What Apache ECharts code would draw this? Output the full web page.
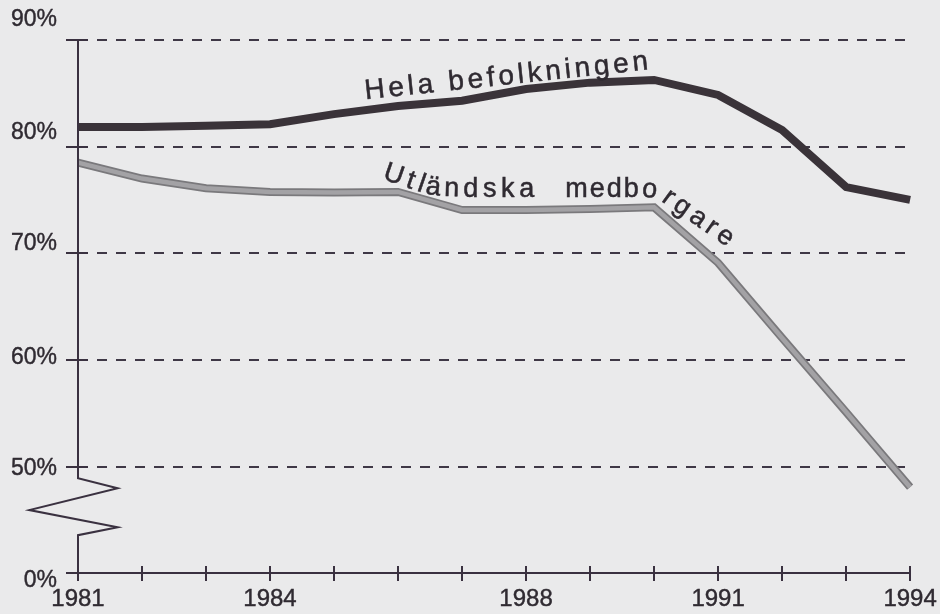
<!DOCTYPE html>
<html>
<head>
<meta charset="utf-8">
<script src="https://cdn.jsdelivr.net/npm/echarts@6/dist/echarts.min.js"></script>
<style>
  html, body { margin: 0; padding: 0; background: #eaeaeb; }
  #chart { width: 940px; height: 614px; }
</style>
</head>
<body>
<div id="chart"></div>
<script>
// data (andel i procent)
const years = [1981, 1982, 1983, 1984, 1985, 1986, 1987, 1988, 1989, 1990, 1991, 1992, 1993, 1994]
const hela = [81.85, 81.85, 81.95, 82.1, 83.05, 83.8, 84.3, 85.4, 86.0, 86.25, 84.85, 81.55, 76.2, 75.0]
const utlandska = [78.5, 77.0, 76.1, 75.75, 75.7, 75.75, 74.05, 74.05, 74.15, 74.3, 69.1, 62.05, 55.1, 48.05]
const yearLabels = [1981, 1984, 1988, 1991, 1994]
// y axis is broken: the bottom tick (40) stands for 0%
const pctTicks = [40, 50, 60, 70, 80, 90]
const pctLabels = ['0%', '50%', '60%', '70%', '80%', '90%']

const FONT = '"Liberation Sans", Arial, sans-serif'
const INK = '#2f2a31'
const AXIS = '#3a3140'

const chart = echarts.init(document.getElementById('chart'))

// labels sit a bit off their lines in the print
const labelShift = { 40: [16, 0, 0, 0], 50: [5, 0, 0, 0], 60: [0, 0, 5, 0], 70: [0, 0, 19, 0], 80: [0, 0, 27, 0], 90: [0, 0, 41, 0] }
const rich = {}
pctTicks.forEach((v) => {
  rich['s' + v] = {
    fontSize: 23, fontFamily: FONT, color: INK, padding: labelShift[v],
    textBorderColor: INK, textBorderWidth: 0.4
  }
})

const xBase = {
  type: 'value',
  min: years[0],
  max: years[years.length - 1],
  interval: 1,
  position: 'bottom',
  splitLine: { show: false }
}

chart.setOption({
  backgroundColor: '#eaeaeb',
  animation: false,
  grid: { left: 78, right: 25, top: 40, bottom: 41 },
  xAxis: [
    Object.assign({}, xBase, {
      axisLine: { show: true, lineStyle: { color: AXIS, width: 2 } },
      axisTick: { show: true, length: 8, lineStyle: { color: AXIS, width: 2 } },
      axisLabel: {
        margin: 14,
        fontSize: 24,
        fontFamily: FONT,
        color: INK,
        textBorderColor: INK,
        textBorderWidth: 0.4,
        formatter: (v) => (yearLabels.includes(v) ? String(v) : '')
      }
    }),
    Object.assign({}, xBase, {
      axisLine: { show: false },
      axisTick: { show: true, inside: true, length: 7, lineStyle: { color: AXIS, width: 2 } },
      axisLabel: { show: false }
    })
  ],
  yAxis: [
    {
      type: 'value',
      min: 40,
      max: 90,
      interval: 10,
      axisLine: { show: false },
      axisTick: { show: true, length: 12, lineStyle: { color: AXIS, width: 2 } },
      axisLabel: {
        margin: 21,
        formatter: (v) => '{s' + v + '|' + pctLabels[pctTicks.indexOf(v)] + '}',
        rich: rich
      },
      splitLine: {
        show: true,
        lineStyle: { color: '#3f3846', width: 1.8, type: [10, 9] }
      }
    },
    {
      type: 'value',
      min: 40,
      max: 90,
      interval: 10,
      position: 'left',
      axisLine: { show: false },
      axisTick: { show: true, inside: true, length: 10, lineStyle: { color: AXIS, width: 2 } },
      axisLabel: { show: false },
      splitLine: { show: false }
    }
  ],
  series: [
    {
      name: 'Utländska medborgare (kant)',
      type: 'line',
      showSymbol: false,
      z: 3,
      data: years.map((y, i) => [y, utlandska[i]]),
      lineStyle: { color: '#7a797c', width: 8, join: 'miter' }
    },
    {
      name: 'Utländska medborgare',
      type: 'line',
      showSymbol: false,
      z: 4,
      data: years.map((y, i) => [y, utlandska[i]]),
      lineStyle: { color: '#a3a2a5', width: 4.5, join: 'miter' }
    },
    {
      name: 'Hela befolkningen',
      type: 'line',
      showSymbol: false,
      z: 5,
      data: years.map((y, i) => [y, hela[i]]),
      lineStyle: { color: '#3a3339', width: 8, join: 'miter' }
    }
  ]
})

const px = (p) => chart.convertToPixel({ xAxisIndex: 0, yAxisIndex: 0 }, p)

// y axis with the zigzag break, in [year, value]
const axisPath = [
  [1981, 90], [1981, 48.9], [1981.62, 47.95], [1980.24, 45.9],
  [1981.62, 44.3], [1981, 43.55], [1981, 40]
]

// label baselines along the lines, in [year, value]
const helaPath = [[1985.5, 83.85], [1989.93, 86.65]]
const utlPath = [
  [1985.72, 76.45], [1986.44, 74.95], [1986.78, 74.75],
  [1989.99, 74.75], [1990.09, 74.28], [1991.1, 70.05]
]

const measure = document.createElement('canvas').getContext('2d')

// one text element per letter, following a polyline from arc length `start`
function textOnPath (str, path, size, spacing, start) {
  const pts = path.map(px)
  const segs = []
  let total = 0
  for (let i = 1; i < pts.length; i++) {
    const dx = pts[i][0] - pts[i - 1][0]
    const dy = pts[i][1] - pts[i - 1][1]
    const len = Math.hypot(dx, dy)
    segs.push({ x: pts[i - 1][0], y: pts[i - 1][1], dx: dx / len, dy: dy / len, s0: total, len })
    total += len
  }
  const at = (s) => {
    let g = segs[segs.length - 1]
    for (const sg of segs) {
      if (s <= sg.s0 + sg.len) { g = sg; break }
    }
    const t = s - g.s0
    return [g.x + g.dx * t, g.y + g.dy * t]
  }
  const font = size + 'px ' + FONT
  measure.font = font
  const out = []
  let s = start || 0
  for (const ch of str) {
    const w = measure.measureText(ch).width
    if (ch !== ' ') {
      const p = at(s)
      const q = at(s + w)
      const ang = Math.atan2(q[1] - p[1], q[0] - p[0])
      out.push({
        type: 'text',
        x: p[0],
        y: p[1],
        rotation: -ang,
        z: 20,
        style: {
          text: ch,
          font: font,
          fill: INK,
          stroke: INK,
          lineWidth: 0.5,
          textAlign: 'left',
          textVerticalAlign: 'bottom'
        }
      })
    }
    s += w + spacing
  }
  return out
}

chart.setOption({
  graphic: [
    {
      type: 'polyline',
      z: 10,
      shape: { points: axisPath.map(px) },
      style: { stroke: AXIS, lineWidth: 2, fill: null }
    }
  ].concat(
    textOnPath('Hela befolkningen', helaPath, 28, 3.8, 0),
    textOnPath('Utländska', utlPath, 27, 4.6, 0),
    textOnPath('medbo', utlPath, 27, 2, 188),
    textOnPath('rgare', utlPath, 27, 4.5, 281)
  )
})
</script>
</body>
</html>
